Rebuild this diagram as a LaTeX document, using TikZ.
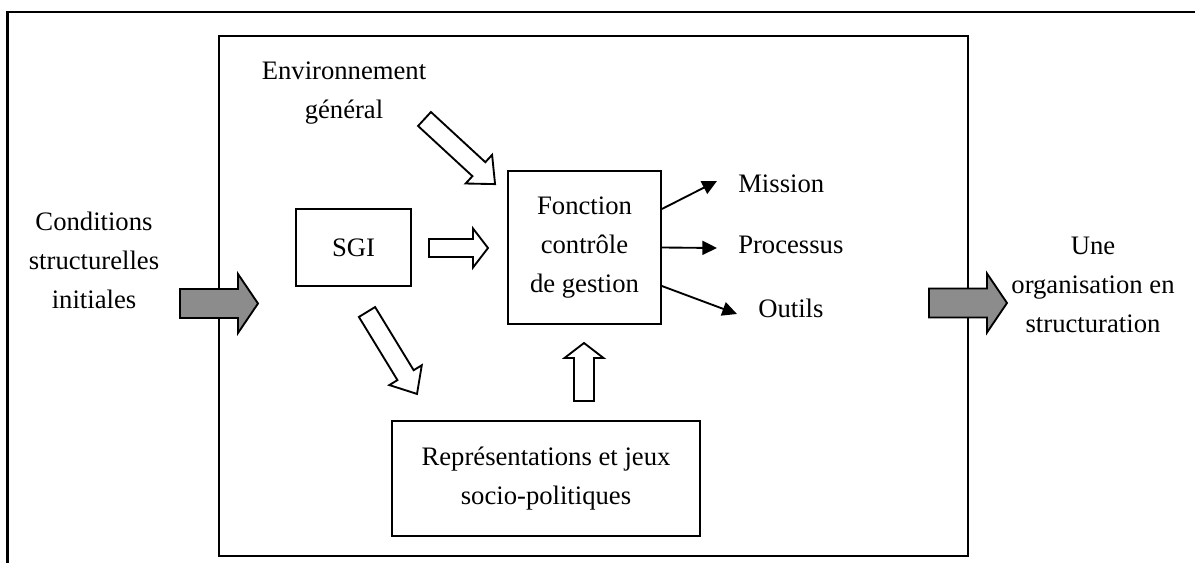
\documentclass[tikz,border=0pt]{standalone}
\usepackage{fontspec}
\setmainfont{Liberation Serif}
\usetikzlibrary{positioning,arrows.meta,calc}

\begin{document}
\begin{tikzpicture}[
  x=0.75pt,y=-0.75pt,
  every node/.style={font=\fontsize{20}{29}\selectfont,inner sep=0pt},
  box/.style={draw,line width=1.4pt,align=center},
  label/.style={align=center,anchor=base},
  outarrow/.style={-{Triangle[length=11pt,width=10.5pt]},line width=1.4pt},
  grayarrow/.style={draw,line width=1.4pt,fill=black!45,line join=miter},
  openarrow/.style={draw,line width=1.4pt,fill=white,line join=miter},
  pics/fatarrow/.style n args={4}{code={
    \path[pic actions] (0,-#2) -- ({#1-#4},-#2) -- ({#1-#4},-#3) -- (#1,0)
      -- ({#1-#4},#3) -- ({#1-#4},#2) -- (0,#2) -- cycle;
  }}
]
\useasboundingbox (0,0) rectangle (1195,563);

% cadre
\draw[line width=2pt] (1195,12) -- (7.5,12) -- (7.5,563);
\draw[line width=1.5pt] (219,36) rectangle (968,555.5);

% blocs
\node[box,minimum width=86.25pt,minimum height=57.75pt] (sgi) at (353.5,247.5) {SGI};
\node[box,minimum width=114.75pt,minimum height=114.75pt] (fonc) at (584.5,247.5)
  {Fonction\\contrôle\\de gestion};
\node[box,minimum width=231pt,minimum height=86.25pt] (rep) at (546,478.5)
  {Représentations et jeux\\socio-politiques};

% textes (base = dernière ligne)
\node[label] (cond) at (94,308) {Conditions\\structurelles\\initiales};
\node[label] (env) at (344,118.5) {Environnement\\général};
\node[label] (une) at (1093,332) {Une\\organisation en\\structuration};
\node[anchor=base west] (mission) at (738,192) {Mission};
\node[anchor=base west] (proc) at (738,253) {Processus};
\node[anchor=base west] (outils) at (758,317) {Outils};

% flèches entrée / sortie
\pic[grayarrow] at (180,303.5) {fatarrow={78}{14.5}{29.5}{20}};
\pic[grayarrow] at (929,303) {fatarrow={78}{14.5}{29.5}{20}};

% flèches creuses
\pic[openarrow] at (429,248) {fatarrow={59}{9}{19.5}{15}};
\pic[openarrow,rotate=90] at (584,401) {fatarrow={58}{10}{19.5}{15}};
\pic[openarrow,rotate=-42.7] at (424.5,119) {fatarrow={96}{9.5}{19.5}{22}};
\pic[openarrow,rotate=-58.6] at (367,312) {fatarrow={96}{9.5}{19}{22}};

% sorties de la fonction
\coordinate (mtip) at (717,181);
\coordinate (ptip) at (717,248);
\coordinate (otip) at (737,314);
\draw[outarrow] ([yshift=28.9pt]fonc.east) -- (mtip);
\draw[outarrow] (fonc.east) -- (ptip);
\draw[outarrow] ([yshift=-28.9pt]fonc.east) -- (otip);
\end{tikzpicture}
\end{document}
